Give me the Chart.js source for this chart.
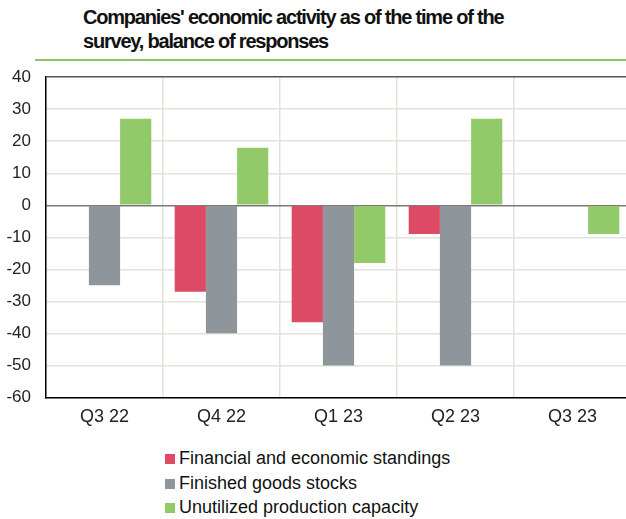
<!DOCTYPE html>
<html>
<head>
<meta charset="utf-8">
<script src="https://cdn.jsdelivr.net/npm/chart.js@4"></script>
<style>
  body { margin: 0; overflow: hidden; background: #fff; font-family: "Liberation Sans", Arial, sans-serif; }
  #title { position: absolute; left: 83px; top: 5px; font-weight: bold; font-size: 20px; letter-spacing: -1.2px; line-height: 24px; color: #111; white-space: nowrap; }
  #rule { position: absolute; left: 35px; top: 59px; width: 600px; height: 2px; background: #8cc860; }
  #box { position: absolute; left: 0; top: 52px; width: 631px; height: 385px; }
  #legend { position: absolute; left: 165px; top: 446px; font-size: 18px; color: #111; }
  #legend div { height: 24.5px; line-height: 24.5px; white-space: nowrap; }
  #legend span { display: inline-block; width: 10px; height: 10px; margin-right: 4px; vertical-align: 0px; }
</style>
</head>
<body>
<div id="title">Companies' economic activity as of the time of the<br>survey, balance of responses</div>
<div id="rule"></div>
<div id="box"><canvas id="chart"></canvas></div>
<div id="legend"></div>
<script>
const quarters = ['Q3 22', 'Q4 22', 'Q1 23', 'Q2 23', 'Q3 23'];
const financial = [null, -27, -36.5, -9, null];
const stocks = [-25, -40, -50, -50, null];
const capacity = [27, 18, -18, 27, -9];
const yTicks = [40, 30, 20, 10, 0, -10, -20, -30, -40, -50, -60];

const ctx = document.getElementById('chart').getContext('2d');
const chart = new Chart(ctx, {
  type: 'bar',
  data: {
    labels: quarters,
    datasets: [
      { label: 'Financial and economic standings', data: financial, backgroundColor: '#dc4a64' },
      { label: 'Finished goods stocks', data: stocks, backgroundColor: '#8e969c' },
      { label: 'Unutilized production capacity', data: capacity, backgroundColor: '#92c969' }
    ]
  },
  options: {
    responsive: true,
    maintainAspectRatio: false,
    animation: false,
    layout: { padding: { top: 9, right: 0, left: 0, bottom: 0 } },
    datasets: { bar: { categoryPercentage: 0.8, barPercentage: 1.0 } },
    plugins: { legend: { display: false }, tooltip: { enabled: false } },
    scales: {
      x: {
        grid: { color: '#e2e2da', lineWidth: 1.5, drawTicks: false },
        border: { color: '#000', width: 1.5 },
        ticks: { color: '#222', font: { family: 'Liberation Sans', size: 18 }, padding: 9 }
      },
      y: {
        min: Math.min(...yTicks),
        max: Math.max(...yTicks),
        afterFit: s => { s.width = 46; },
        grid: {
          drawTicks: false,
          lineWidth: 1.5,
          color: c => {
            if (!c.tick) return '#e2e2da';
            if (c.tick.value === 0) return '#7a7a7a';
            if (c.tick.value === 40) return '#555';
            return '#e2e2da';
          }
        },
        border: { color: '#000', width: 1.5 },
        ticks: { stepSize: 10, color: '#222', padding: 15, font: { family: 'Liberation Sans', size: 17 } }
      }
    }
  }
});

// legend built from the chart's datasets
const legend = document.getElementById('legend');
chart.data.datasets.forEach(ds => {
  const row = document.createElement('div');
  const sw = document.createElement('span');
  sw.style.background = ds.backgroundColor;
  row.appendChild(sw);
  row.appendChild(document.createTextNode(ds.label));
  legend.appendChild(row);
});
</script>
</body>
</html>
